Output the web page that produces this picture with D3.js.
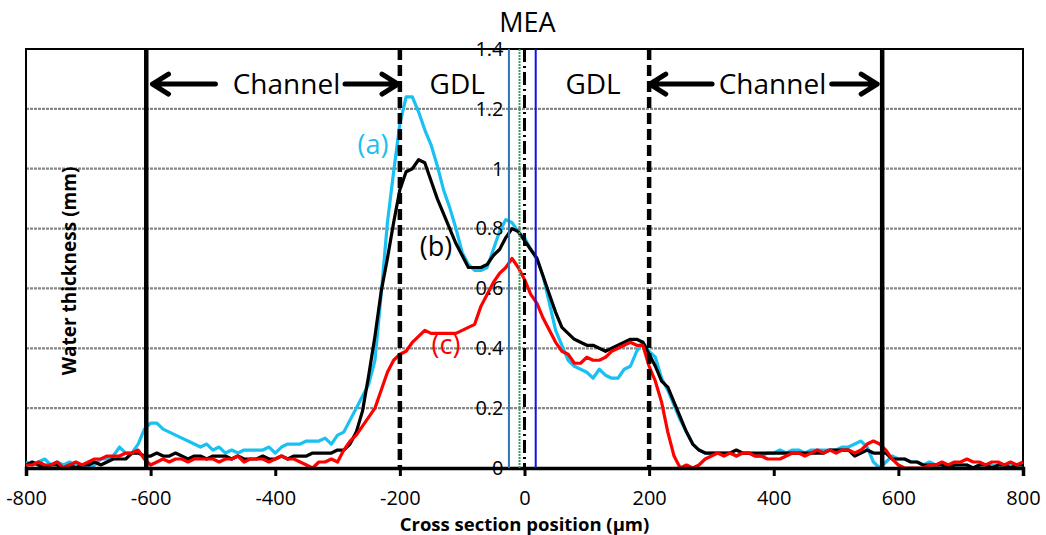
<!DOCTYPE html>
<html>
<head>
<meta charset="utf-8">
<script src="https://cdn.jsdelivr.net/npm/d3@7"></script>
<style>
  body { margin: 0; background: #fff; }
  svg { font-family: "Open Sans", "DejaVu Sans", sans-serif; }
</style>
</head>
<body>
<div id="chart"></div>
<script>
// cross section positions (um)
var positions = [-800,-790,-780,-770,-760,-750,-740,-730,-720,-710,-700,-690,-680,-670,-660,-650,-640,-630,-620,-610,
  -600,-590,-580,-570,-560,-550,-540,-530,-520,-510,-500,-490,-480,-470,-460,-450,-440,-430,-420,-410,
  -400,-390,-380,-370,-360,-350,-340,-330,-320,-310,-300,-290,-280,-270,-260,-250,-240,-230,-220,-210,
  -200,-190,-180,-170,-160,-150,-140,-130,-120,-110,-100,-90,-80,-70,-60,-50,-40,-30,-20,-10,
  0,10,20,30,40,50,60,70,80,90,100,110,120,130,140,150,160,170,180,190,
  200,210,220,230,240,250,260,270,280,290,300,310,320,330,340,350,360,370,380,390,
  400,410,420,430,440,450,460,470,480,490,500,510,520,530,540,550,560,570,580,590,
  600,610,620,630,640,650,660,670,680,690,700,710,720,730,740,750,760,770,780,790,800]

// water thickness (mm)
var seriesA = [0.02,0.01,0.02,0.03,0.01,0.02,0.01,0.02,0.01,0.01,0.00,0.01,0.03,0.03,0.04,0.07,0.05,0.05,0.08,0.13,
  0.15,0.15,0.13,0.12,0.11,0.10,0.09,0.08,0.07,0.08,0.06,0.07,0.05,0.06,0.05,0.06,0.06,0.06,0.06,0.07,
  0.05,0.07,0.08,0.08,0.08,0.09,0.09,0.09,0.10,0.08,0.11,0.12,0.16,0.20,0.24,0.28,0.36,0.58,0.82,0.99,
  1.15,1.24,1.24,1.19,1.13,1.08,1.01,0.93,0.87,0.80,0.72,0.68,0.66,0.66,0.67,0.73,0.79,0.83,0.82,0.79,
  0.77,0.73,0.70,0.64,0.55,0.46,0.41,0.36,0.34,0.33,0.32,0.30,0.33,0.31,0.30,0.30,0.33,0.34,0.39,0.42,
  0.39,0.37,0.30,0.26,0.21,0.16,0.12,0.08,0.06,0.05,0.05,0.05,0.05,0.05,0.04,0.05,0.05,0.04,0.04,0.05,
  0.05,0.06,0.05,0.06,0.06,0.05,0.06,0.06,0.06,0.06,0.06,0.07,0.07,0.08,0.09,0.07,0.02,0.00,0.02,0.04,
  0.03,0.03,0.02,0.02,0.01,0.02,0.01,0.01,0.01,0.01,0.01,0.01,0.00,0.01,0.01,0.01,0.00,0.01,0.01,0.01,0.01]

var seriesB = [0.01,0.02,0.01,0.00,0.01,0.01,0.00,0.01,0.00,0.01,0.01,0.02,0.01,0.02,0.03,0.03,0.03,0.05,0.05,0.04,
  0.04,0.05,0.04,0.04,0.05,0.04,0.03,0.04,0.04,0.03,0.04,0.04,0.04,0.03,0.04,0.03,0.03,0.03,0.04,0.03,
  0.03,0.04,0.03,0.04,0.04,0.04,0.05,0.05,0.05,0.05,0.06,0.06,0.08,0.12,0.19,0.31,0.44,0.59,0.70,0.82,
  0.93,0.99,1.00,1.03,1.02,0.96,0.90,0.85,0.80,0.75,0.71,0.67,0.67,0.67,0.68,0.71,0.73,0.77,0.80,0.79,
  0.76,0.73,0.70,0.64,0.58,0.52,0.47,0.45,0.43,0.42,0.41,0.41,0.40,0.39,0.40,0.41,0.42,0.43,0.43,0.42,
  0.38,0.34,0.29,0.27,0.22,0.17,0.12,0.08,0.06,0.05,0.05,0.05,0.05,0.05,0.06,0.05,0.05,0.05,0.05,0.05,
  0.05,0.05,0.05,0.05,0.05,0.05,0.05,0.05,0.05,0.06,0.06,0.06,0.06,0.04,0.05,0.06,0.05,0.05,0.05,0.03,
  0.03,0.03,0.02,0.02,0.01,0.01,0.01,0.01,0.00,0.01,0.01,0.01,0.00,0.01,0.01,0.00,0.01,0.01,0.00,0.01,0.01]

var seriesC = [0.01,0.01,0.02,0.01,0.01,0.02,0.00,0.01,0.02,0.01,0.02,0.03,0.03,0.04,0.04,0.04,0.05,0.05,0.06,0.03,
  0.01,0.02,0.03,0.02,0.03,0.03,0.02,0.03,0.03,0.03,0.03,0.02,0.03,0.03,0.04,0.02,0.03,0.03,0.03,0.02,
  0.03,0.04,0.03,0.03,0.02,0.01,0.00,0.02,0.02,0.03,0.02,0.06,0.09,0.11,0.14,0.17,0.20,0.26,0.32,0.36,
  0.38,0.39,0.42,0.44,0.46,0.45,0.45,0.45,0.45,0.45,0.46,0.47,0.48,0.54,0.58,0.62,0.65,0.67,0.70,0.67,
  0.63,0.58,0.55,0.50,0.46,0.42,0.39,0.38,0.35,0.35,0.37,0.36,0.36,0.37,0.39,0.40,0.41,0.42,0.41,0.41,
  0.34,0.29,0.22,0.12,0.04,0.00,0.01,0.00,0.01,0.03,0.04,0.05,0.04,0.05,0.04,0.05,0.05,0.04,0.04,0.03,
  0.03,0.03,0.04,0.05,0.05,0.04,0.05,0.06,0.05,0.06,0.05,0.06,0.06,0.05,0.06,0.08,0.09,0.08,0.06,0.03,
  0.01,0.00,0.00,0.00,0.00,0.01,0.01,0.02,0.01,0.02,0.02,0.03,0.02,0.02,0.01,0.02,0.02,0.01,0.02,0.01,0.02]

var xTicks = [-800, -600, -400, -200, 0, 200, 400, 600, 800]
var yTicks = [0, 0.2, 0.4, 0.6, 0.8, 1, 1.2, 1.4]

var margin = { top: 49, right: 23, bottom: 67, left: 26 },
  width = 1046 - margin.left - margin.right,
  height = 535 - margin.top - margin.bottom;

var x = d3.scaleLinear().domain([-800, 800]).range([0, width]);
var y = d3.scaleLinear().domain([0, 1.4]).range([height, 0]);

var svg = d3.select("#chart").append("svg")
  .attr("width", 1046)
  .attr("height", 535);

var g = svg.append("g")
  .attr("transform", "translate(" + margin.left + "," + margin.top + ")");

// gridlines
g.selectAll(".grid").data(yTicks.slice(1, -1)).enter().append("line")
  .attr("x1", 0).attr("x2", width)
  .attr("y1", function(d) { return y(d) }).attr("y2", function(d) { return y(d) })
  .attr("stroke", "#888").attr("stroke-width", 2.2).attr("stroke-dasharray", "3,1");

// plot border
g.append("rect").attr("width", width).attr("height", height)
  .attr("fill", "none").attr("stroke", "#000").attr("stroke-width", 2);

// series lines
var line = d3.line()
  .x(function(d) { return x(d[0]) })
  .y(function(d) { return y(d[1]) });

var series = [
  { vals: seriesA, color: "#19c0f2" },
  { vals: seriesB, color: "#000000" },
  { vals: seriesC, color: "#ff0000" }
]
series.forEach(function(s) {
  var pts = positions.map(function(p, i) { return [p, s.vals[i]] })
  g.append("path").datum(pts)
    .attr("d", line)
    .attr("fill", "none")
    .attr("stroke", s.color)
    .attr("stroke-width", 3.2)
    .attr("stroke-linejoin", "round");
});

// x axis
var xAxis = g.append("g")
  .attr("transform", "translate(0," + height + ")")
  .call(d3.axisBottom(x).tickValues(xTicks).tickSize(8).tickPadding(15).tickFormat(function(d) { return String(d) }));
xAxis.select(".domain").attr("stroke-width", 3.5);
xAxis.selectAll(".tick line").attr("stroke-width", 3);
xAxis.selectAll("text").attr("font-size", 20).attr("font-family", "Open Sans").attr("fill", "#000");

// y axis labels sit at x = 0
var yAxis = g.append("g")
  .attr("transform", "translate(" + x(0) + ",0)")
  .call(d3.axisLeft(y).tickValues(yTicks).tickSize(0).tickPadding(21).tickFormat(function(d) { return String(d) }));
yAxis.select(".domain").remove();
yAxis.selectAll("text").attr("font-size", 20).attr("font-family", "Open Sans").attr("fill", "#000");

// vertical marker lines
var markers = [
  { pos: -607, color: "#000", w: 4.5, dash: null },
  { pos: 574, color: "#000", w: 4.5, dash: null },
  { pos: -200, color: "#000", w: 4.5, dash: "11,5" },
  { pos: 200, color: "#000", w: 4.5, dash: "11,5" },
  { pos: -25, color: "#2e75b6", w: 2, dash: null },
  { pos: -8, color: "#3f9a5e", w: 2, dash: "2,1" },
  { pos: 0, color: "#000", w: 3, dash: "13,4,2,4" },
  { pos: 18, color: "#1010ee", w: 2, dash: null }
]
g.selectAll(".marker").data(markers).enter().append("line")
  .attr("x1", function(d) { return x(d.pos) }).attr("x2", function(d) { return x(d.pos) })
  .attr("y1", 0).attr("y2", height)
  .attr("stroke", function(d) { return d.color })
  .attr("stroke-width", function(d) { return d.w })
  .attr("stroke-dasharray", function(d) { return d.dash });

// arrows
var arrows = [
  { from: -496, to: -597 },
  { from: -288, to: -203 },
  { from: 301, to: 201 },
  { from: 493, to: 566 }
]
var arrowY = y(1.283)
arrows.forEach(function(a) {
  var x0 = x(a.from), x1 = x(a.to), dir = x1 > x0 ? -1 : 1
  g.append("path")
    .attr("d", "M" + x0 + "," + arrowY + "L" + x1 + "," + arrowY +
      "M" + (x1 + dir * 16) + "," + (arrowY - 10) + "L" + x1 + "," + arrowY + "L" + (x1 + dir * 16) + "," + (arrowY + 10))
    .attr("fill", "none").attr("stroke", "#000").attr("stroke-width", 5)
    .attr("stroke-linecap", "round").attr("stroke-linejoin", "round");
});

// region labels
var regionLabels = [
  { text: "Channel", pos: -382 },
  { text: "GDL", pos: -108 },
  { text: "GDL", pos: 110 },
  { text: "Channel", pos: 398 }
]
g.selectAll(".region").data(regionLabels).enter().append("text")
  .attr("x", function(d) { return x(d.pos) })
  .attr("y", y(1.25))
  .attr("text-anchor", "middle")
  .attr("font-size", 28)
  .text(function(d) { return d.text });

// series labels
var seriesLabels = [
  { text: "(a)", pos: -243, val: 1.05, color: "#19c0f2" },
  { text: "(b)", pos: -142, val: 0.71, color: "#000" },
  { text: "(c)", pos: -126, val: 0.38, color: "#ff0000" }
]
g.selectAll(".slabel").data(seriesLabels).enter().append("text")
  .attr("x", function(d) { return x(d.pos) })
  .attr("y", function(d) { return y(d.val) })
  .attr("text-anchor", "middle")
  .attr("font-size", 27)
  .attr("fill", function(d) { return d.color })
  .text(function(d) { return d.text });

// title
svg.append("text")
  .attr("x", margin.left + x(0) + 3).attr("y", 32)
  .attr("text-anchor", "middle").attr("font-size", 27)
  .text("MEA");

// axis titles
svg.append("text")
  .attr("x", margin.left + x(0)).attr("y", 531)
  .attr("text-anchor", "middle").attr("font-size", 18.5).attr("font-weight", "bold")
  .text("Cross section position (\u03bcm)");

svg.append("text")
  .attr("transform", "translate(76,271) rotate(-90)")
  .attr("text-anchor", "middle").attr("font-size", 19).attr("font-weight", "bold")
  .text("Water thickness (mm)");
</script>
</body>
</html>
